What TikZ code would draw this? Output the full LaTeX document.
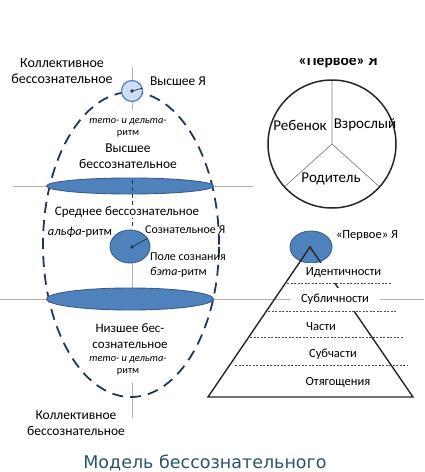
\documentclass[tikz,border=0pt]{standalone}
\usepackage{fontspec}
\setmainfont{Carlito}
\newfontfamily\capfont{DejaVu Sans}
\usetikzlibrary{shapes.geometric}
\definecolor{discfill}{RGB}{79,129,189}
\definecolor{discline}{RGB}{56,93,138}
\definecolor{selffill}{RGB}{205,222,242}
\definecolor{eggline}{RGB}{31,56,90}
\definecolor{capcolor}{RGB}{43,84,99}

\begin{document}
\begin{tikzpicture}[
  x=1pt, y=-1pt,
  every node/.style={inner sep=0pt, align=center, font=\fontsize{12.5}{16}\selectfont},
  large/.style={font=\fontsize{14}{16}\selectfont},
  huge/.style={font=\fontsize{15}{17}\selectfont},
  rhythm/.style={font=\fontsize{10.4}{11.5}\selectfont},
  axis/.style={draw=gray!60, line width=0.8pt},
  disc/.style={fill=discfill, draw=discline, line width=0.9pt},
  egg/.style={draw=eggline, line width=1.8pt, dash pattern=on 11pt off 7pt},
  pyr/.style={draw=black!85, line width=1.4pt},
  layer/.style={draw=black!70, line width=0.5pt, dash pattern=on 2pt off 1.5pt},
  tier/.style={fill=white, minimum width=#1, minimum height=22pt}
]
\useasboundingbox (0,0) rectangle (424,472);

\coordinate (upL) at (13,186);
\coordinate (upR) at (253,186);
\coordinate (loL) at (0,299);
\coordinate (loR) at (424,299);
\draw[axis] (upL) -- (upR);
\draw[axis] (loL) -- (loR);

\coordinate (axTop) at (132,67);
\coordinate (axA) at (132,110);
\coordinate (axB) at (132,180);
\coordinate (axC) at (132,229);
\coordinate (axD) at (132,247);
\coordinate (axE) at (132,288);
\coordinate (axF) at (132,383);
\coordinate (axBot) at (132,418);
\draw[axis] (axTop) -- (axA);
\draw[axis] (axD) -- (axE);
\draw[axis] (axF) -- (axBot);

\draw[egg] (131,244.5) ellipse [x radius=88pt, y radius=152.5pt];

\node[ellipse, disc, minimum width=167pt, minimum height=16pt] (upper) at (130,186) {};
\node[ellipse, disc, minimum width=167pt, minimum height=22pt] (lower) at (130,299) {};
\draw[eggline, line width=0.8pt, dash pattern=on 4pt off 3pt] (axB) -- (axC);

\node[circle, draw=discfill, fill=selffill, line width=1.2pt, minimum size=21pt] (highself) at (132,91) {};
\fill[eggline] (highself.center) circle (1.8pt);
\draw[eggline, line width=0.8pt] (highself.center) -- (highself.15);

\node[ellipse, disc, minimum width=40pt, minimum height=33pt] (midself) at (130,246.5) {};
\fill[eggline] (axD) circle (1.8pt);
\draw[eggline, line width=0.8pt] (axD) -- (midself.25);

\node[large] (collTop) at (62,71) {Коллективное\\бессознательное};
\node[font=\fontsize{13.5}{16}\selectfont] (highLbl) at (178,81) {Высшее Я};
\node[rhythm] (rhyTop) at (128,128) {\textit{тето- и дельта-}\\ритм};
\node[font=\fontsize{13.5}{16.5}\selectfont] (highUnc) at (128,156) {Высшее\\бессознательное};
\node[fill=white, inner sep=1pt, font=\fontsize{13}{16}\selectfont] (midUnc) at (127,212) {Среднее бессознательное};
\node (alpha) at (80,232) {\textit{альфа}-ритм};
\node[anchor=west, font=\fontsize{12}{15}\selectfont] (consc) at (145,230) {Сознательное Я};
\node[anchor=west, align=left, font=\fontsize{12}{14.5}\selectfont] (field) at (150,265) {Поле сознания\\\textit{бэта}-ритм};
\node[font=\fontsize{13}{16}\selectfont] (lowUnc) at (130,336) {Низшее бес-\\сознательное};
\node[rhythm] (rhyLow) at (128,366) {\textit{тето- и дельта-}\\ритм};
\node[font=\fontsize{13.5}{16}\selectfont] (collLow) at (76,423) {Коллективное\\бессознательное};

\begin{scope}
\clip (230,58) rectangle (424,100);
\node[anchor=base, font=\fontsize{15.5}{17}\selectfont\bfseries] (firstTitle) at (338,65) {«Первое» Я};
\end{scope}
\coordinate (ring) at (332,144);
\draw[gray, line width=0.7pt] (ring) -- +(270:64) (ring) -- +(138:64) (ring) -- +(42:64);
\draw[draw=black!85, line width=1.5pt] (ring) circle (64pt);
\node[huge] (child) at (300,125) {Ребенок};
\node[huge] (adult) at (365,125) {Взрослый};
\node[huge] (parent) at (331,179) {Родитель};

\coordinate (apex) at (310,247);
\coordinate (baseL) at (208,397);
\coordinate (baseR) at (413,397);
\node[ellipse, disc, minimum width=42pt, minimum height=32pt] (firstself) at (311,247) {};
\draw[pyr] (baseL) -- (apex) -- (baseR) -- cycle;
\node[tier=81pt, minimum height=20pt] (ident) at (343.5,273) {Идентичности};
\node[tier=90pt, minimum height=23pt] (subpers) at (335,299.5) {Субличности};
\node (parts) at (321,327) {Части};
\node (subparts) at (333,354) {Субчасти};
\node (burden) at (338,382) {Отягощения};
\node (firstLbl) at (367,235) {«Первое» Я};
\draw[layer] (287,283) -- (392,283);
\draw[layer] (268,311) -- (397,311);
\draw[layer] (250,337) -- (403,337);
\draw[layer] (235,365) -- (408,365);

\node[font=\capfont\fontsize{17.5}{20}\selectfont, text=capcolor] (caption) at (205,463) {Модель бессознательного};
\end{tikzpicture}
\end{document}
